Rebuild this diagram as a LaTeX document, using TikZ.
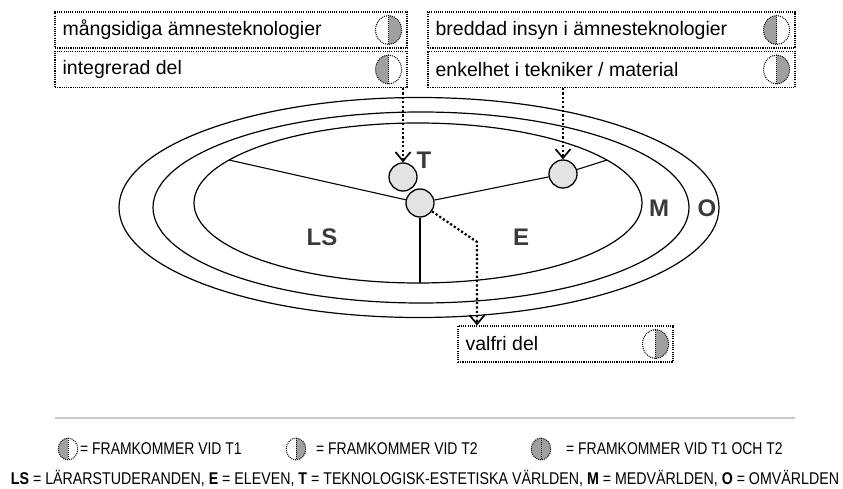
\documentclass[tikz,border=0pt]{standalone}
\usepackage{fontspec}
\setmainfont{Liberation Sans}
\newfontfamily\narrowsans[FakeStretch=0.836]{Liberation Sans}
\newfontfamily\keysans[FakeStretch=0.82]{Liberation Sans}
\usetikzlibrary{arrows.meta,calc}

\definecolor{markgray}{HTML}{A0A0A0}
\definecolor{discgray}{HTML}{E3E3E3}
\definecolor{labelgray}{HTML}{3A3A3A}
\definecolor{rulegray}{HTML}{C8C8C8}

\tikzset{
  x=1pt, y=-1pt,
  infobox/.style={draw, line width=1.1pt, dash pattern=on 1.1pt off 1.1pt,
    minimum height=36pt, inner sep=0pt},
  boxtext/.style={anchor=west, inner sep=0pt, font=\fontsize{19.5}{22}\selectfont},
  ring/.style={line width=1.2pt},
  spoke/.style={line width=1.1pt},
  disc/.style={circle, draw, line width=1.3pt, fill=discgray, minimum size=28pt, inner sep=0pt},
  zone/.style={font=\bfseries\fontsize{24}{26}\selectfont, text=labelgray, inner sep=0pt},
  pointer/.style={line width=2.2pt, dash pattern=on 2.2pt off 2.2pt,
    -{Straight Barb[length=9pt,width=15pt,line width=1.7pt]}},
  legendtext/.style={anchor=west, inner sep=0pt, font=\keysans\fontsize{17}{20}\selectfont},
  markline/.style={line width=1pt, dash pattern=on 1pt off 1pt},
  pics/tone/.style={code={%
    \fill[markgray] (0,14.5) arc[start angle=90,end angle=270,x radius=13,y radius=14.5] -- cycle;
    \draw[markline] (0,0) ellipse[x radius=13,y radius=14.5];
    \draw[markline] (0,-14.5) -- (0,14.5);}},
  pics/ttwo/.style={code={%
    \fill[markgray] (0,14.5) arc[start angle=90,end angle=-90,x radius=13,y radius=14.5] -- cycle;
    \draw[markline] (0,0) ellipse[x radius=13,y radius=14.5];
    \draw[markline] (0,-14.5) -- (0,14.5);}},
  pics/tboth/.style={code={%
    \fill[markgray] (0,0) ellipse[x radius=13,y radius=14.5];
    \draw[markline] (0,0) ellipse[x radius=13,y radius=14.5];
    \draw[markline] (0,-14.5) -- (0,14.5);}},
}

\begin{document}
\begin{tikzpicture}
\useasboundingbox (0,0) rectangle (843,489);

% nested worlds
\draw[ring] (419,207.5) ellipse[x radius=300,y radius=110];
\draw[ring] (421,207.5) ellipse[x radius=268,y radius=95.5];
\draw[ring] (418,203) ellipse[x radius=224,y radius=80];

\coordinate (lsend) at (229,160);
\coordinate (eend)  at (607,160);
\coordinate (bottom) at (420,283);

% meeting points
\node[disc] (mid)   at (420,203) {};
\node[disc] (upper) at (403,177) {};
\node[disc] (right) at (563,174) {};

\draw[spoke] (mid) -- (lsend);
\draw[spoke] (mid) -- (right);
\draw[spoke] (right) -- (eend);
\draw[spoke] (mid) -- (bottom);

% zone letters
\node[zone] (lT) at (424,160) {T};
\node[zone] (lM) at (659,208) {M};
\node[zone] (lO) at (707,208) {O};
\node[zone] (lLS) at (322,237) {LS};
\node[zone] (lE) at (521,237) {E};

% description boxes
\node[infobox, minimum width=352pt] (b1) at (231,30) {};
\node[infobox, minimum width=352pt] (b2) at (231,69.5) {};
\node[infobox, minimum width=367pt] (b3) at (611.5,30) {};
\node[infobox, minimum width=367pt] (b4) at (611.5,69.5) {};
\node[infobox, minimum width=215pt] (b5) at (565.5,344) {};

\node[boxtext] (t1) at ($(b1.west)+(8,0)$) {mångsidiga ämnesteknologier};
\node[boxtext] (t2) at ($(b2.west)+(8,0)$) {integrerad del};
\node[boxtext] (t3) at ($(b3.west)+(8,0)$) {breddad insyn i ämnesteknologier};
\node[boxtext] (t4) at ($(b4.west)+(8,0)$) {enkelhet i tekniker / material};
\node[boxtext] (t5) at ($(b5.west)+(8,0)$) {valfri del};

\pic at ($(b1.east)+(-19,0)$) {ttwo};
\pic at ($(b2.east)+(-19,0)$) {tone};
\pic at ($(b3.east)+(-19,0)$) {tone};
\pic at ($(b4.east)+(-19,0)$) {ttwo};
\pic at ($(b5.east)+(-18,0)$) {ttwo};

% pointers from boxes to meeting points
\draw[pointer] (upper.north |- b2.south) -- (upper.north);
\draw[pointer] (right.north |- b4.south) -- (right.north);
\coordinate (bend) at (477,242);
\draw[pointer] (mid.-35) -- (bend) -- (bend |- b5.north);

% legend
\coordinate (ruleL) at (55,418);
\coordinate (ruleR) at (795,418);
\draw[rulegray, line width=1.5pt] (ruleL) -- (ruleR);

\pic[scale=0.75] at (68,449) {tone};
\node[legendtext] (k1) at (80,449) {= FRAMKOMMER VID T1};
\pic[scale=0.75] at (296,449) {ttwo};
\node[legendtext] (k2) at (316,449) {= FRAMKOMMER VID T2};
\pic[scale=0.75] at (541,449) {tboth};
\node[legendtext] (k3) at (566,449) {= FRAMKOMMER VID T1 OCH T2};

\node[inner sep=0pt, font=\narrowsans\fontsize{17}{20}\selectfont] (key) at (425,478)
  {\textbf{LS} = LÄRARSTUDERANDEN, \textbf{E} = ELEVEN, \textbf{T} = TEKNOLOGISK-ESTETISKA VÄRLDEN, \textbf{M} = MEDVÄRLDEN, \textbf{O} = OMVÄRLDEN};
\end{tikzpicture}
\end{document}
